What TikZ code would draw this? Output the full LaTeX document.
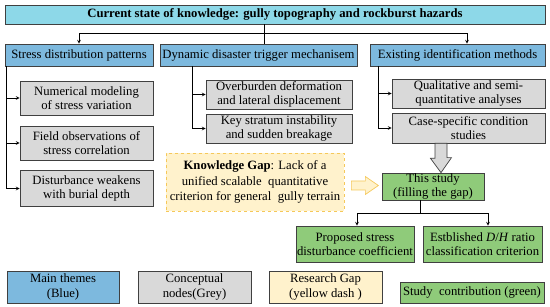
\documentclass[tikz,border=0pt]{standalone}
\usepackage{fontspec}
\setmainfont{Liberation Serif}
\usepackage{xcolor}
\usetikzlibrary{positioning, arrows.meta}

\definecolor{titlecyan}{RGB}{141,216,232}
\definecolor{themeblue}{RGB}{125,185,222}
\definecolor{nodegrey}{RGB}{217,217,217}
\definecolor{studygreen}{RGB}{143,203,122}
\definecolor{gapfill}{RGB}{255,242,204}
\definecolor{gapline}{RGB}{245,200,90}
\newcommand{\boxfont}{\fontsize{12.7}{14.6}\selectfont}

\begin{document}
\begin{tikzpicture}[
    x=1pt, y=-1pt,
    box/.style={draw=black!75, line width=0.7pt, align=center,
                inner xsep=1pt, inner ysep=1pt, font=\boxfont},
    theme/.style={box, fill=themeblue, minimum height=22pt},
    concept/.style={box, fill=nodegrey, minimum height=30pt},
    study/.style={box, fill=studygreen},
    gapbox/.style={box, draw=gapline, dashed, fill=gapfill},
    arw/.style={->, >=stealth, line width=0.7pt},
    line/.style={line width=0.7pt},
    hollow/.style={draw=black!75, line width=0.7pt, fill=nodegrey},
    yhollow/.style={draw=gapline, line width=0.7pt, fill=gapfill},
]
\useasboundingbox (0,0) rectangle (550,307);

% --- Nodes ---
\node[box, fill=titlecyan, minimum width=540pt, minimum height=19pt,
      font=\boxfont\bfseries] (title) at (275, 14.5)
    {Current state of knowledge: gully topography and rockburst hazards};

\node[theme, minimum width=148pt] (sdp) at (79, 55)
    {Stress distribution patterns};
\node[theme, minimum width=197pt] (ddt) at (258.5, 55)
    {Dynamic disaster trigger mechanisem};
\node[theme, minimum width=175pt] (eim) at (457.5, 55)
    {Existing identification methods};

\node[concept, minimum width=133pt, minimum height=34pt] (s1) at (86.5, 98)
    {Numerical modeling\\of stress variation};
\node[concept, minimum width=133pt, minimum height=34pt] (s2) at (86.5, 143)
    {Field observations of\\stress correlation};
\node[concept, minimum width=133pt, minimum height=36pt] (s3) at (86.5, 188.5)
    {Disturbance weakens\\with burial depth};

\node[concept, minimum width=146pt, minimum height=29pt] (m1) at (279, 94.5)
    {Overburden deformation\\and lateral displacement};
\node[concept, minimum width=146pt, minimum height=29pt] (m2) at (279, 128.5)
    {Key stratum instability\\and sudden breakage};

\node[concept, minimum width=153pt, minimum height=29pt] (r1) at (468.5, 93.5)
    {Qualitative and semi-\\quantitative analyses};
\node[concept, minimum width=153pt] (r2) at (468.5, 128)
    {Case-specific condition\\studies};

\node[gapbox, minimum width=178pt, minimum height=58pt,
      font=\fontsize{12.7}{15.5}\selectfont] (gap) at (255, 182)
    {\textbf{Knowledge Gap}: Lack of a\\unified scalable \ quantitative\\criterion for general \ gully terrain};

\node[study, minimum width=102pt, minimum height=27pt,
      font=\fontsize{12.7}{13.5}\selectfont] (thisstudy) at (433, 186.5)
    {This study\\(filling the gap)};

\node[study, minimum width=118pt, minimum height=36pt] (p1) at (355, 244)
    {Proposed stress\\disturbance coefficient};
\node[study, minimum width=119pt, minimum height=36pt] (p2) at (482.5, 244)
    {Estblished \textit{D}/\textit{H} ratio\\classification criterion};

% --- Legend ---
\node[theme, minimum width=112pt, minimum height=32pt] (lg1) at (63, 287)
    {Main themes\\(Blue)};
\node[concept, minimum width=113pt, minimum height=32pt] (lg2) at (194.5, 287)
    {Conceptual\\nodes(Grey)};
\node[box, fill=gapfill, minimum width=113pt, minimum height=32pt] (lg3) at (325.5, 287)
    {Research Gap\\(yellow dash )};
\node[study, minimum width=144pt, minimum height=21pt] (lg4) at (472, 292.5)
    {Study \ contribution (green)};

% --- Arrows ---
\coordinate (hub) at (264, 33);
\draw[line] (title.south -| hub) -- (ddt.north -| hub);
\draw[arw] (hub) -| (sdp.north);
\draw[arw] (hub) -| ([xshift=9.5pt]eim.north);

\draw[arw] ([xshift=2pt]sdp.south west) |- (s1.west);
\draw[arw] ([xshift=2pt]sdp.south west) |- (s2.west);
\draw[arw] ([xshift=2pt]sdp.south west) |- (s3.west);

\draw[arw] ([xshift=33pt]ddt.south west) |- (m1.west);
\draw[arw] ([xshift=33pt]ddt.south west) |- (m2.west);

\draw[arw] ([xshift=9pt]eim.south west) |- (r1.west);
\draw[arw] ([xshift=9pt]eim.south west) |- (r2.west);

% hollow arrows into this study
\coordinate (ha) at ([xshift=-27.5pt]r2.south);
\draw[hollow] ([xshift=-6pt]ha) -- ++(0,15) -- ++(-4.5,0)
    -- (ha |- thisstudy.north) -- ++(10.5,-15) -- ++(-4.5,0)
    -- ([xshift=6pt]ha) -- cycle;
\draw[yhollow] ([shift={(7pt,-3.5pt)}]gap.east) -- ++(0,-4.5) -- ++(14,0)
    -- ++(0,-4.5) -- ++(13,9) -- ++(-13,9) -- ++(0,-4.5)
    -- ++(-14,0) -- cycle;

\coordinate (fork) at (420, 213);
\draw[line] (thisstudy.south -| fork) -- (fork);
\draw[arw] (fork) -| ([xshift=2pt]p1.north);
\draw[arw] (fork) -| ([xshift=5.5pt]p2.north);
\end{tikzpicture}
\end{document}
